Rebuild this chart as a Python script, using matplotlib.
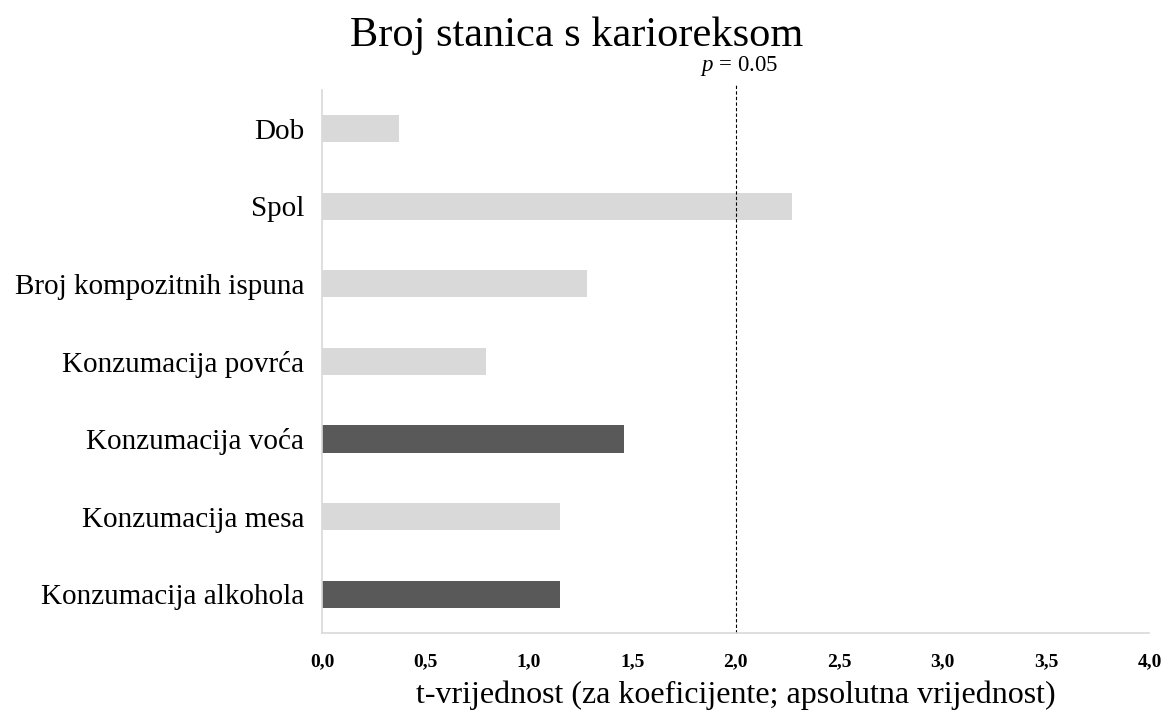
import matplotlib
matplotlib.use("Agg")
import matplotlib.pyplot as plt
from matplotlib.transforms import offset_copy

categories = ["Dob", "Spol", "Broj kompozitnih ispuna", "Konzumacija povrća",
              "Konzumacija voća", "Konzumacija mesa", "Konzumacija alkohola"]
t_values = [0.37, 2.27, 1.28, 0.79, 1.46, 1.15, 1.15]
highlight = [False, False, False, False, True, False, True]
x_ticks = [0.0, 0.5, 1.0, 1.5, 2.0, 2.5, 3.0, 3.5, 4.0]
x_tick_labels = ["0,0", "0,5", "1,0", "1,5", "2,0", "2,5", "3,0", "3,5", "4,0"]
p_threshold = 2.0

plt.rcParams['font.family'] = ['Liberation Serif', 'DejaVu Serif']
plt.rcParams['mathtext.fontset'] = 'custom'
plt.rcParams['mathtext.it'] = 'Liberation Serif:italic'
plt.rcParams['mathtext.rm'] = 'Liberation Serif'

fig = plt.figure(figsize=(11.67, 7.2), dpi=100)
ax = fig.add_axes([0.276, 0.121, 0.709, 0.754])

colors = ["#595959" if h else "#d9d9d9" for h in highlight]
y = list(range(len(categories)))
ax.barh(y, t_values, height=0.35, color=colors)
ax.set_ylim(len(categories) - 0.5, -0.5)
ax.set_xlim(0, 4.0)
ax.set_yticks(y)
ax.set_yticklabels(categories, fontsize=21)
ax.set_xticks(x_ticks)
ax.set_xticklabels(x_tick_labels, fontsize=14, fontweight='bold')
ax.tick_params(axis='both', length=0)
ax.tick_params(axis='x', pad=15)
ax.tick_params(axis='y', pad=13)

for s in ['top', 'right']:
    ax.spines[s].set_visible(False)
for s in ['left', 'bottom']:
    ax.spines[s].set_color('#d9d9d9')
    ax.spines[s].set_linewidth(1.2)

ax.axvline(p_threshold, ymin=0, ymax=1.013, color='black', linestyle=(0, (3, 2)),
           linewidth=0.8, clip_on=False)
tr = offset_copy(ax.get_xaxis_transform(), fig=fig, x=3, y=0, units='dots')
ax.text(p_threshold, 1.022, r"$p$ = 0.05", transform=tr,
        ha='center', va='bottom', fontsize=16.5)

ax.set_xlabel("t-vrijednost (za koeficijente; apsolutna vrijednost)", fontsize=23, labelpad=7)
fig.text(0.494, 0.951, "Broj stanica s karioreksom", fontsize=30.5, ha='center', va='center')

fig.savefig("out.png", dpi=100)
